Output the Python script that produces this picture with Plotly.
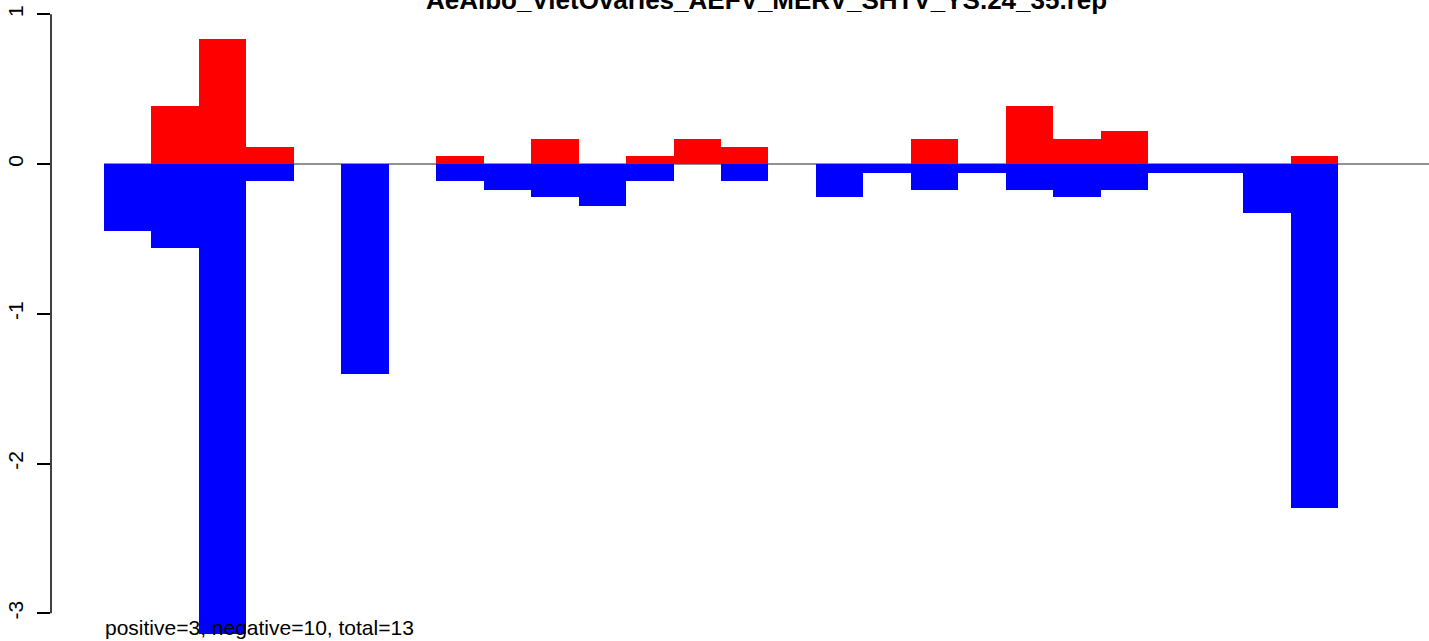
import plotly.graph_objects as go

# Per-position scores: positive (red) and negative (blue) strands
positions = ["1", "2", "3", "4", "5", "6", "7", "8", "9", "10", "11", "12", "13",
             "14", "15", "16", "17", "18", "19", "20", "21", "22", "23", "24", "25", "26"]
positive = [0.0, 0.389, 0.836, 0.111, 0.0, 0.0, 0.0, 0.054, 0.0, 0.166, 0.0, 0.054, 0.166,
            0.111, 0.0, 0.0, 0.0, 0.166, 0.0, 0.389, 0.166, 0.224, 0.0, 0.0, 0.0, 0.054]
negative = [-0.45, -0.56, -3.14, -0.11, 0.0, -1.40, 0.0, -0.11, -0.17, -0.22, -0.28, -0.11, 0.0,
            -0.11, 0.0, -0.22, -0.06, -0.17, -0.06, -0.17, -0.22, -0.17, -0.06, -0.06, -0.33, -2.30]

y_ticks = [-3, -2, -1, 0, 1]
y_tick_labels = ["-3", "-2", "-1", "0", "1"]

title_text = "AeAlbo_VietOvaries_AEFV_MERV_SHTV_YS.24_35.rep"
summary_text = "positive=3, negative=10, total=13"

FONT = "Liberation Sans, Arial, Helvetica, sans-serif"

fig = go.Figure()
fig.add_trace(go.Bar(x=positions, y=positive, width=1, marker=dict(color="#ff0000", line=dict(width=0)),
                     showlegend=False, hoverinfo="x+y"))
fig.add_trace(go.Bar(x=positions, y=negative, width=1, marker=dict(color="#0000ff", line=dict(width=0)),
                     showlegend=False, hoverinfo="x+y"))

# zero reference line, drawn under the bars
fig.add_shape(type="line", xref="x", yref="y", x0=-0.5, x1=40, y0=0, y1=0,
              line=dict(color="#6e6e6e", width=1.4), layer="below")
# y axis line spanning the tick range only
fig.add_shape(type="line", xref="paper", yref="y", x0=0, x1=0, y0=min(y_ticks), y1=max(y_ticks),
              line=dict(color="black", width=1.5), layer="above")

fig.add_annotation(text="<b>" + title_text + "</b>", xref="paper", yref="paper",
                   x=(766.5 - 51) / 1378, y=1, xanchor="center", yanchor="middle", yshift=0,
                   showarrow=False, font=dict(family=FONT, size=26, color="black"))
fig.add_annotation(text=summary_text, xref="paper", yref="paper",
                   x=(103 - 51) / 1378, y=0, xanchor="left", yanchor="bottom", yshift=0,
                   showarrow=False, font=dict(family=FONT, size=21, color="black"))

fig.update_layout(
    width=1429, height=641,
    margin=dict(l=51, r=0, t=0, b=0),
    paper_bgcolor="white", plot_bgcolor="white",
    barmode="overlay", bargap=0,
    font=dict(family=FONT, color="black"),
    xaxis=dict(visible=False, range=[-1.6167, 27.418], fixedrange=True),
    yaxis=dict(range=[-3.1848, 1.0954], tickvals=y_ticks, ticktext=y_tick_labels,
               ticks="outside", ticklen=13, tickwidth=1.5, tickcolor="black",
               tickangle=-90, ticklabelstandoff=6,
               tickfont=dict(family=FONT, size=21, color="black"),
               showline=False, showgrid=False, zeroline=False, fixedrange=True),
)

fig.write_html("out.html")
